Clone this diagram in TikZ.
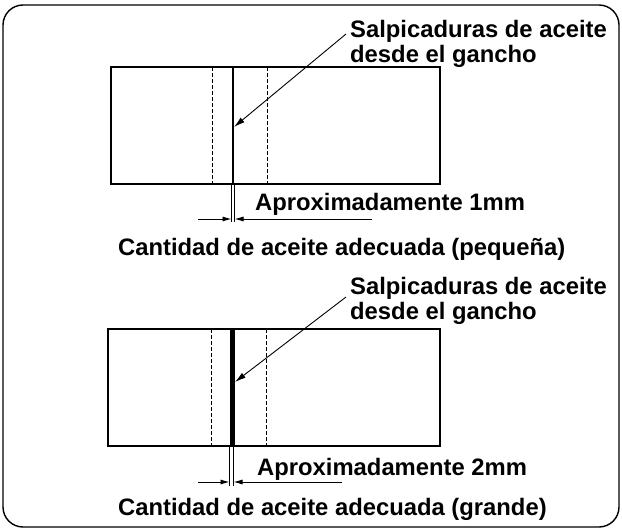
\documentclass[tikz,border=0pt]{standalone}
\usepackage{fontspec}
\setmainfont{Liberation Sans}
\usetikzlibrary{arrows.meta}
\begin{document}
\begin{tikzpicture}[x=1pt,y=-1pt,
  lbl/.style={font=\bfseries\fontsize{23.8}{25}\selectfont, inner sep=0pt},
  boxln/.style={line width=1.2pt},
  dsh/.style={line width=0.9pt, dash pattern=on 4pt off 2pt},
  lead/.style={line width=0.9pt, -{Latex[length=11pt,width=6pt]}},
  dim/.style={line width=0.9pt, -{Latex[length=9pt,width=5pt]}},
  ext/.style={line width=0.7pt}]
\useasboundingbox (0,0) rectangle (622,530);
\draw[line width=1.4pt, rounded corners=20pt] (3,5) rectangle (619,527);

% ---------- top panel ----------
\draw[boxln] (111,67) rectangle (440,184);
\draw[dsh] (212,67) -- (212,184);
\draw[dsh] (267,67) -- (267,184);
\draw[line width=2.2pt] (233,67) -- (233,184);
\node[lbl, anchor=base west, align=left] (t1) at (350,62) {Salpicaduras de aceite\\desde el gancho};
\coordinate (s1) at (346,34);
\coordinate (e1) at (234,127);
\draw[lead] (s1) -- (e1);
\coordinate (a1) at (231.5,184); \coordinate (a1b) at (231.5,222);
\coordinate (b1) at (234.5,184); \coordinate (b1b) at (234.5,222);
\draw[ext] (a1) -- (a1b);
\draw[ext] (b1) -- (b1b);
\coordinate (l1) at (198,219); \coordinate (l1e) at (231.5,219);
\coordinate (r1) at (372,219); \coordinate (r1e) at (234.5,219);
\draw[dim] (l1) -- (l1e);
\draw[dim] (r1) -- (r1e);
\node[lbl, anchor=base west] (d1) at (255,210) {Aproximadamente 1mm};
\node[lbl, anchor=base west] (c1) at (118,255) {Cantidad de aceite adecuada (pequeña)};

% ---------- bottom panel ----------
\draw[boxln] (108,329) rectangle (440,446);
\draw[dsh] (211,329) -- (211,446);
\draw[dsh] (266,329) -- (266,446);
\draw[line width=5pt] (232,329) -- (232,446);
\node[lbl, anchor=base west, align=left] (t2) at (350,319) {Salpicaduras de aceite\\desde el gancho};
\coordinate (s2) at (346,297);
\coordinate (e2) at (235,382);
\draw[lead] (s2) -- (e2);
\coordinate (a2) at (229.5,446); \coordinate (a2b) at (229.5,486);
\coordinate (b2) at (233.5,446); \coordinate (b2b) at (233.5,486);
\draw[ext] (a2) -- (a2b);
\draw[ext] (b2) -- (b2b);
\coordinate (l2) at (198,482); \coordinate (l2e) at (229.5,482);
\coordinate (r2) at (342,482); \coordinate (r2e) at (233.5,482);
\draw[dim] (l2) -- (l2e);
\draw[dim] (r2) -- (r2e);
\node[lbl, anchor=base west] (d2) at (257,475) {Aproximadamente 2mm};
\node[lbl, anchor=base west] (c2) at (118,515) {Cantidad de aceite adecuada (grande)};
\end{tikzpicture}
\end{document}
